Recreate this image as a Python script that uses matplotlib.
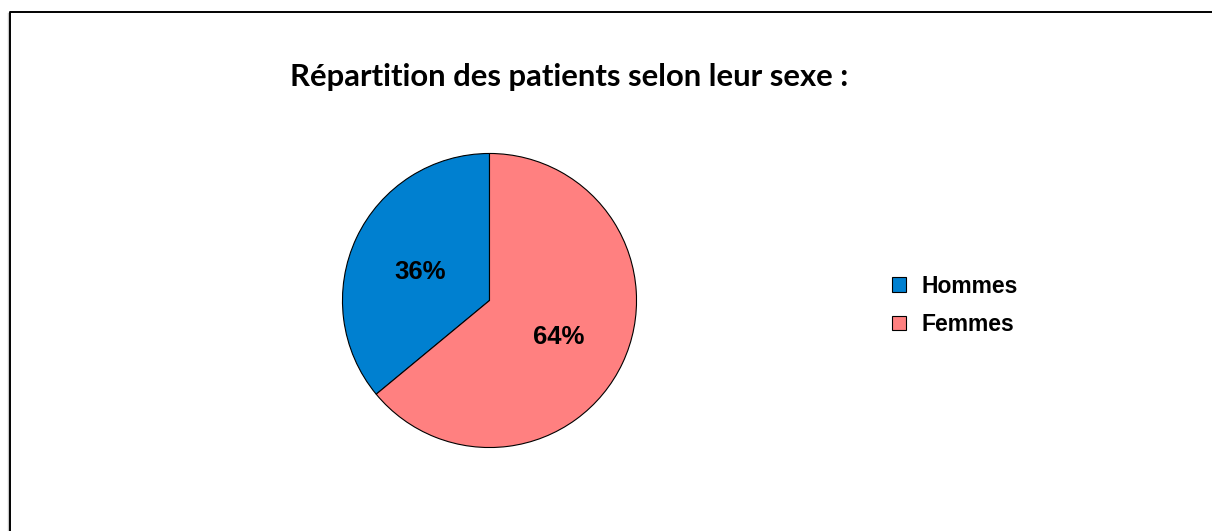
import matplotlib.pyplot as plt
from matplotlib.lines import Line2D

# données
categories = ['Hommes', 'Femmes']
valeurs = [36, 64]
couleurs = ['#0080D0', '#FF8080']
titre = 'Répartition des patients selon leur sexe :'

W, H = 1212, 531
fig = plt.figure(figsize=(W / 100, H / 100), dpi=100)
fig.patch.set_facecolor('white')

# cadre (bord gauche et haut) + ombre grise
fig.add_artist(Line2D([7.8 / W, 7.8 / W], [0, 1 - 13 / H],
                      color='#c8c8c8', lw=1.0, transform=fig.transFigure))
fig.add_artist(Line2D([9.5 / W, 9.5 / W, 1], [0, 1 - 12 / H, 1 - 12 / H],
                      color='black', lw=1.4, transform=fig.transFigure))

# camembert
cx, cy, r = 489.5, 300.5, 148.5
ax = fig.add_axes([(cx - r) / W, (H - cy - r) / H, 2 * r / W, 2 * r / H])
wedges, texts, autotexts = ax.pie(
    valeurs, colors=couleurs, startangle=90, counterclock=True,
    autopct='%1.0f%%', pctdistance=0.52, radius=1,
    wedgeprops={'edgecolor': 'black', 'linewidth': 0.8},
    textprops={'fontsize': 18.5, 'fontweight': 'bold',
               'family': 'Liberation Sans', 'color': 'black'})
# les étiquettes sont un peu plus bas dans l'original
for t in autotexts:
    x, y = t.get_position()
    t.set_position((x, y - 0.028))
ax.set_xlim(-1.01, 1.01)
ax.set_ylim(-1.01, 1.01)
ax.set_aspect('equal')
ax.axis('off')

fig.text(569 / W, 1 - 77 / H, titre, ha='center', va='center',
         fontsize=22.3, fontweight='bold', family='Lato')

fig.legend(wedges, categories, loc='center left',
           bbox_to_anchor=(881 / W, 1 - 305.5 / H), frameon=False,
           borderpad=0, handlelength=0.6, handleheight=0.6,
           handletextpad=0.65, labelspacing=0.68,
           prop={'family': 'Liberation Sans', 'weight': 'bold', 'size': 16.5})

fig.savefig('out.png', dpi=100)
